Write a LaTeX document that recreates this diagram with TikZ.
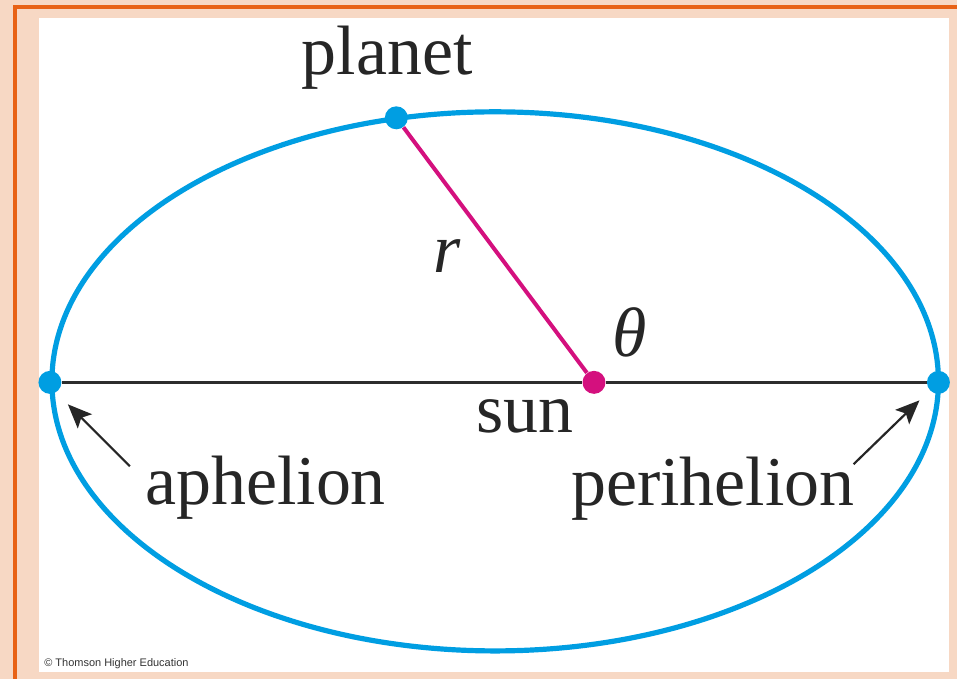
\documentclass[tikz,border=0pt]{standalone}
\usepackage{fontspec}
\setmainfont{Liberation Serif}
\newfontfamily\creditfont{Liberation Sans}
\usepackage{xcolor}
\usepackage{tikz}
\usetikzlibrary{arrows.meta}

\definecolor{orbitblue}{RGB}{0,158,226}
\definecolor{radiuspink}{RGB}{212,16,126}
\definecolor{framepeach}{RGB}{247,216,196}
\definecolor{frameorange}{RGB}{232,98,22}
\definecolor{axisgray}{RGB}{45,45,45}

\begin{document}
\begin{tikzpicture}[x=0.5pt, y=-0.5pt,
    bluedot/.style={circle, fill=orbitblue, inner sep=0pt, minimum size=11.5pt},
    pinkdot/.style={circle, fill=radiuspink, inner sep=0pt, minimum size=11.5pt},
    word/.style={anchor=base, inner sep=0pt, font=\fontsize{35}{40}\selectfont, text=black!85},
    pointer/.style={-{Stealth[length=12pt, width=10pt, inset=2.5pt]}, line width=1.1pt, black!85}]
    % Frame
    \fill[framepeach] (0,0) rectangle (959,680);
    \fill[white] (39,18) rectangle (951,673);
    \draw[frameorange, line width=1.6pt] (15,680) -- (15,7) -- (959,7);
    \node[anchor=base west, inner sep=0pt, font=\creditfont\fontsize{5.5}{6}\selectfont, text=black!80] (credit) at (44,668) {© Thomson Higher Education};

    % Orbit
    \draw[orbitblue, line width=2.6pt] (496,382) ellipse [x radius=222pt, y radius=135pt];

    % Points on the orbit
    \node[bluedot] (aph) at (50,383) {};
    \node[bluedot] (peri) at (940,383) {};
    \node[bluedot] (planet) at (397,118) {};
    \node[pinkdot] (sun) at (595,383) {};

    % Major axis and radius
    \draw[axisgray, line width=1.5pt] (aph) -- (sun) -- (peri);
    \draw[radiuspink, line width=2pt] (planet) -- (sun);

    % Labels
    \node[word] (planetlabel) at (388,75) {planet};
    \node[word] (rlabel) at (448,273) {\textit{r}};
    \node[word] (thetalabel) at (631,357) {\textit{θ}};
    \node[word] (sunlabel) at (526,433) {sun};
    \node[word] (aphlabel) at (266,505) {aphelion};
    \node[word] (perilabel) at (714,506) {perihelion};

    % Arrows to the apsides
    \coordinate (aphtail) at (130,467);
    \coordinate (aphtip) at (68,405);
    \coordinate (peritail) at (855,465);
    \coordinate (peritip) at (921,401);
    \draw[pointer] (aphtail) -- (aphtip);
    \draw[pointer] (peritail) -- (peritip);
\end{tikzpicture}
\end{document}
